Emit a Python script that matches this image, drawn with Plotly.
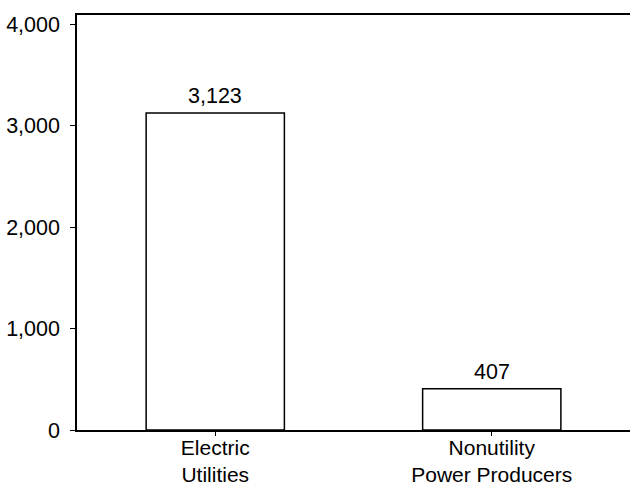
import plotly.graph_objects as go

categories = ["Electric<br>Utilities", "Nonutility<br>Power Producers"]
values = [3123, 407]
value_labels = ["3,123", "407"]
tick_vals = [0, 1000, 2000, 3000, 4000]
tick_text = ["0", "1,000", "2,000", "3,000", "4,000"]

FONT = "Liberation Sans, Arial, sans-serif"
FS = 21.5

fig = go.Figure()
fig.add_trace(go.Bar(
    x=categories,
    y=values,
    marker=dict(color="white", line=dict(color="black", width=1.5)),
    width=0.5,
    hoverinfo="skip",
))

for c, v, t in zip(categories, values, value_labels):
    fig.add_annotation(x=c, y=v, text=t, showarrow=False, yanchor="bottom",
                       yshift=3, font=dict(family=FONT, size=FS, color="black"))

fig.update_layout(
    width=630, height=489,
    margin=dict(l=77, r=0, t=15, b=59),
    paper_bgcolor="white", plot_bgcolor="white",
    showlegend=False,
    font=dict(family=FONT, size=FS, color="black"),
    xaxis=dict(
        automargin=False,
        showline=True, linecolor="black", linewidth=1.5, mirror=True,
        ticks="outside", ticklen=4, tickcolor="black", tickwidth=1,
        showgrid=False, zeroline=False,
        ticklabelstandoff=-6,
        tickfont=dict(family=FONT, size=21, color="black"),
        range=[-0.5, 1.5],
    ),
    yaxis=dict(
        automargin=False,
        range=[0, 4090],
        tickvals=tick_vals, ticktext=tick_text,
        showline=True, linecolor="black", linewidth=1.5,
        ticks="outside", ticklen=5, tickcolor="black", tickwidth=1,
        showgrid=False, zeroline=False,
        ticklabelstandoff=6,
        tickfont=dict(family=FONT, size=FS, color="black"),
    ),
)

fig.write_html("out.html", config={"displayModeBar": False},
               post_script="document.body.style.margin='0';")
